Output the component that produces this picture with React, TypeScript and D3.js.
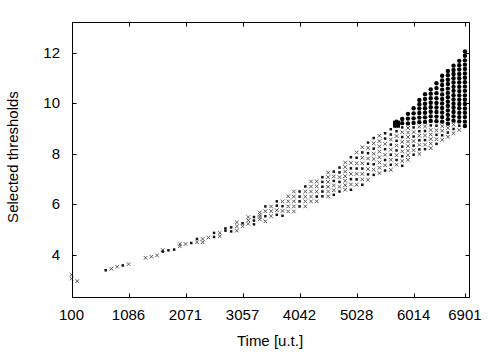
import React, { useEffect, useRef } from "react";
import * as d3 from "d3";

// time of each column of thresholds
const times = [
  100, 199, 691, 790, 889, 987, 1086, 1381, 1480, 1579, 1677, 1776, 1874, 1973,
  2071, 2170, 2269, 2367, 2466, 2564, 2663, 2761, 2860, 2959, 3057, 3156, 3254,
  3353, 3451, 3550, 3649, 3747, 3846, 3944, 4043, 4141, 4240, 4339, 4437, 4536,
  4634, 4733, 4831, 4930, 5029, 5127, 5226, 5324, 5423, 5521, 5620, 5719, 5817,
  5916, 6014, 6113, 6211, 6310, 6409, 6507, 6606, 6704, 6803, 6901,
];

// selected thresholds per column (bottom to top)
const thresholds: number[][] = [
  [3.05, 3.2],
  [2.95],
  [3.38],
  [3.44],
  [3.52],
  [3.57],
  [3.62],
  [3.87],
  [3.92],
  [3.97],
  [4.12, 4.18],
  [4.17],
  [4.2],
  [4.33, 4.42],
  [4.42],
  [4.46],
  [4.49, 4.62],
  [4.49, 4.62],
  [4.68],
  [4.7, 4.86],
  [4.73, 4.86],
  [4.95, 5.04],
  [4.92, 5.08],
  [4.95, 5.12, 5.28],
  [5.12, 5.24],
  [5.22, 5.36, 5.49],
  [5.2, 5.35, 5.49],
  [5.4, 5.49, 5.58, 5.67],
  [5.32, 5.52, 5.72, 5.91],
  [5.52, 5.72, 5.91],
  [5.58, 5.76, 5.94, 6.11],
  [5.54, 5.73, 5.92, 6.11],
  [5.71, 5.91, 6.11, 6.31],
  [5.71, 5.91, 6.11, 6.3, 6.5],
  [5.91, 6.11, 6.3, 6.5],
  [5.91, 6.11, 6.3, 6.5, 6.7],
  [6.11, 6.3, 6.5, 6.7, 6.9],
  [6.11, 6.3, 6.5, 6.7, 6.9],
  [6.31, 6.5, 6.69, 6.88, 7.07],
  [6.31, 6.5, 6.69, 6.88, 7.07, 7.25],
  [6.37, 6.55, 6.74, 6.92, 7.1, 7.29],
  [6.5, 6.69, 6.88, 7.07, 7.26, 7.45],
  [6.57, 6.75, 6.93, 7.11, 7.29, 7.47, 7.65],
  [6.57, 6.78, 6.99, 7.2, 7.42, 7.64, 7.86],
  [6.77, 6.98, 7.2, 7.41, 7.62, 7.84, 8.05],
  [6.77, 6.98, 7.2, 7.41, 7.62, 7.84, 8.05, 8.26],
  [6.97, 7.18, 7.39, 7.6, 7.81, 8.02, 8.23, 8.44],
  [7.16, 7.37, 7.58, 7.79, 8.0, 8.2, 8.41, 8.62],
  [7.23, 7.44, 7.65, 7.86, 8.08, 8.29, 8.5, 8.71],
  [7.33, 7.54, 7.75, 7.96, 8.18, 8.39, 8.6, 8.81],
  [7.36, 7.56, 7.76, 7.96, 8.16, 8.36, 8.56, 8.76, 8.97],
  [7.56, 7.75, 7.94, 8.13, 8.32, 8.51, 8.7, 8.89, 9.08, 9.27],
  [7.52, 7.71, 7.9, 8.09, 8.28, 8.47, 8.66, 8.85, 9.04, 9.21, 9.38],
  [7.76, 7.94, 8.12, 8.3, 8.48, 8.66, 8.84, 9.02, 9.2, 9.39, 9.58],
  [7.96, 8.14, 8.32, 8.5, 8.68, 8.86, 9.04, 9.22, 9.4, 9.6, 9.8],
  [7.99, 8.17, 8.35, 8.53, 8.71, 8.89, 9.07, 9.25, 9.43, 9.61, 9.79, 9.96, 10.13],
  [8.18, 8.36, 8.54, 8.72, 8.9, 9.08, 9.26, 9.44, 9.62, 9.8, 9.98, 10.17, 10.36],
  [8.22, 8.4, 8.58, 8.76, 8.94, 9.12, 9.3, 9.48, 9.66, 9.84, 10.02, 10.2, 10.38, 10.55],
  [8.39, 8.57, 8.75, 8.93, 9.11, 9.29, 9.47, 9.65, 9.83, 10.01, 10.2, 10.4, 10.6, 10.79],
  [8.55, 8.73, 8.91, 9.09, 9.27, 9.45, 9.63, 9.81, 9.99, 10.17, 10.35, 10.54, 10.72, 10.9, 11.09],
  [8.67, 8.84, 9.02, 9.19, 9.37, 9.54, 9.71, 9.89, 10.06, 10.24, 10.41, 10.58, 10.76, 10.93, 11.11, 11.28],
  [8.81, 8.98, 9.15, 9.31, 9.48, 9.65, 9.82, 9.98, 10.15, 10.32, 10.49, 10.65, 10.82, 10.99, 11.16, 11.32, 11.49],
  [8.94, 9.11, 9.28, 9.45, 9.62, 9.8, 9.97, 10.14, 10.31, 10.48, 10.65, 10.82, 10.99, 11.16, 11.34, 11.51, 11.68],
  [9.1, 9.27, 9.45, 9.62, 9.79, 9.97, 10.14, 10.31, 10.49, 10.66, 10.83, 11.01, 11.18, 11.36, 11.53, 11.7, 11.88, 12.05],
];

// marker kind per threshold: x = grey cross, o = small dot, B = big dot
const markers = [
  "xx", "x", "o", "x", "x", "o", "x", "x", "x", "x", "ox", "o", "o", "xx",
  "x", "o", "xo", "xx", "x", "oo", "xx", "oo", "oo", "xxx", "xo", "xxx", "ooo",
  "xxxx", "xoxo", "xxx", "oxoo", "oxox", "xxxx", "xxxxx", "oooo", "xxxxo",
  "xxxxx", "xoxxx", "ooooo", "xxxxxx", "oxxoxo", "oxoxoo", "xxxxxxx",
  "oxoxoxo", "xoxoxox", "oxxoxxox", "xoxoxoxo", "oxoxxoxo", "xxxxxxxx",
  "oxoxoxoo", "xoxoxoxoo", "xoxoxoxoxB", "oxoxoxoxoBB", "xxxxxxxxBBB",
  "oxoxoxoBBBB", "xoxoxoxBBBBBB", "oxoxoxBBBBBBB", "xxxxxoBBBBBBBB",
  "oxoxoBBBBBBBBB", "xoxxBBBBBBBBBBB", "xoxBBBBBBBBBBBBB",
  "xoxBBBBBBBBBBBBBB", "xoBBBBBBBBBBBBBBB", "BBBBBBBBBBBBBBBBBB",
];

const selectedTime = 5719;
const selectedValue = 9.17;

const xTicks = [100, 1086, 2071, 3057, 4042, 5028, 6014, 6901];
const yTicks = [4, 6, 8, 10, 12];

const App = () => {
  const svgRef = useRef<SVGSVGElement>(null);

  useEffect(() => {
    const svg = d3.select(svgRef.current);
    svg.selectAll("*").remove();

    const width = 502;
    const height = 352;
    const left = 72.5, right = 469.5, top = 22.5, bottom = 297.5;
    const font = "'Liberation Sans', Arial, sans-serif";

    const x = d3.scaleLinear().domain([100, 6980]).range([left - 1, right]);
    const y = d3.scaleLinear().domain([2.3, 13.2]).range([bottom, top]);

    svg.attr("width", width).attr("height", height);

    const points = times.flatMap((t, i) =>
      thresholds[i].map((v, j) => ({ t, v, kind: markers[i][j] || "x" }))
    );

    // grey crosses
    svg.append("g")
      .selectAll("path")
      .data(points.filter(d => d.kind === "x"))
      .enter()
      .append("path")
      .attr("d", d => {
        const cx = x(d.t), cy = y(d.v), r = 1.8;
        return `M${cx - r},${cy - r}L${cx + r},${cy + r}M${cx - r},${cy + r}L${cx + r},${cy - r}`;
      })
      .attr("stroke", "#5a5a5a")
      .attr("stroke-width", 1)
      .attr("fill", "none");

    // small dots
    svg.append("g")
      .selectAll("rect")
      .data(points.filter(d => d.kind === "o"))
      .enter()
      .append("rect")
      .attr("x", d => x(d.t) - 1.25)
      .attr("y", d => y(d.v) - 1.25)
      .attr("width", 2.5)
      .attr("height", 2.5)
      .attr("fill", "#111");

    // big dots
    svg.append("g")
      .selectAll("circle")
      .data(points.filter(d => d.kind === "B"))
      .enter()
      .append("circle")
      .attr("cx", d => x(d.t))
      .attr("cy", d => y(d.v))
      .attr("r", 2.2)
      .attr("fill", "#000");

    // selected marker
    svg.append("rect")
      .attr("x", x(selectedTime) - 3.5)
      .attr("y", y(selectedValue) - 3.5)
      .attr("width", 7)
      .attr("height", 7)
      .attr("fill", "#000");

    // border
    svg.append("rect")
      .attr("x", left)
      .attr("y", top)
      .attr("width", right - left)
      .attr("height", bottom - top)
      .attr("fill", "none")
      .attr("stroke", "#000")
      .attr("stroke-width", 1);

    // ticks, inward on all four sides
    const tk = 4;
    xTicks.forEach(v => {
      const px = Math.round(x(v)) + 0.5;
      svg.append("line").attr("x1", px).attr("x2", px).attr("y1", bottom).attr("y2", bottom - tk).attr("stroke", "#000");
      svg.append("line").attr("x1", px).attr("x2", px).attr("y1", top).attr("y2", top + tk).attr("stroke", "#000");
      svg.append("text")
        .attr("x", x(v))
        .attr("y", 320)
        .attr("text-anchor", "middle")
        .style("font-family", font)
        .style("font-size", "15px")
        .text(v);
    });
    yTicks.forEach(v => {
      const py = Math.round(y(v)) + 0.5;
      svg.append("line").attr("x1", left).attr("x2", left + tk).attr("y1", py).attr("y2", py).attr("stroke", "#000");
      svg.append("line").attr("x1", right).attr("x2", right - tk).attr("y1", py).attr("y2", py).attr("stroke", "#000");
      svg.append("text")
        .attr("x", 60)
        .attr("y", y(v) + 5)
        .attr("text-anchor", "end")
        .style("font-family", font)
        .style("font-size", "15px")
        .text(v);
    });

    svg.append("text")
      .attr("x", 270)
      .attr("y", 346)
      .attr("text-anchor", "middle")
      .style("font-family", font)
      .style("font-size", "15px")
      .text("Time [u.t.]");

    svg.append("text")
      .attr("transform", `translate(18,157) rotate(-90)`)
      .attr("text-anchor", "middle")
      .style("font-family", font)
      .style("font-size", "15px")
      .text("Selected thresholds");
  }, []);

  return <svg ref={svgRef} style={{ position: "absolute", left: 0, top: 0 }} />;
};

export default App;
